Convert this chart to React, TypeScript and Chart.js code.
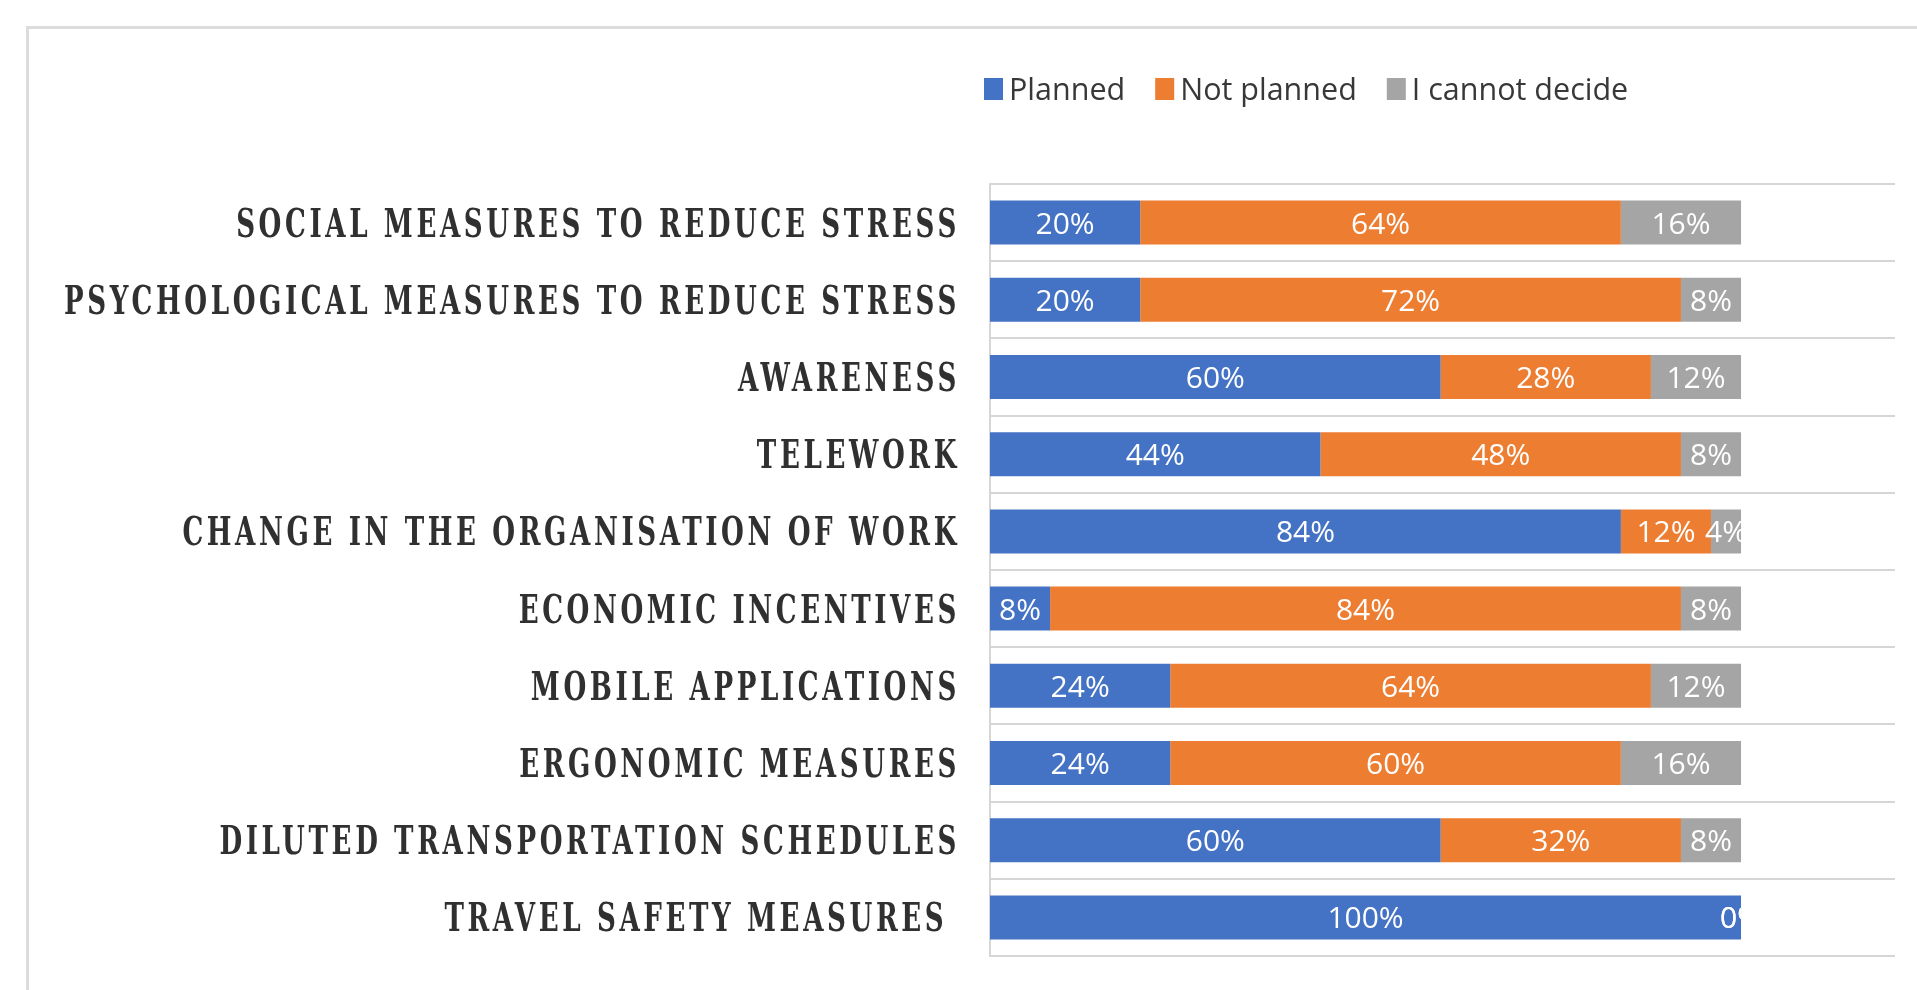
import React, { useEffect, useRef } from "react";
import { Chart, registerables } from "chart.js";

Chart.register(...registerables);

const categories = [
  "SOCIAL MEASURES TO REDUCE STRESS",
  "PSYCHOLOGICAL MEASURES TO REDUCE STRESS",
  "AWARENESS",
  "TELEWORK",
  "CHANGE IN THE ORGANISATION OF WORK",
  "ECONOMIC INCENTIVES",
  "MOBILE APPLICATIONS",
  "ERGONOMIC MEASURES",
  "DILUTED TRANSPORTATION SCHEDULES",
  "TRAVEL SAFETY MEASURES ",
];

const planned = [20, 20, 60, 44, 84, 8, 24, 24, 60, 100];
const notPlanned = [64, 72, 28, 48, 12, 84, 64, 60, 32, 0];
const cannotDecide = [16, 8, 12, 8, 4, 8, 12, 16, 8, 0];

const seriesNames = ["Planned", "Not planned", "I cannot decide"];
const seriesColors = ["#4472C4", "#ED7D31", "#A5A5A5"];

const dataLabelsPlugin = {
  id: "segmentLabels",
  afterDatasetsDraw(chart: any) {
    const ctx = chart.ctx;
    const xs = chart.scales.x;
    const area = chart.chartArea;
    const clipRight = xs.getPixelForValue(100);
    ctx.save();
    ctx.beginPath();
    ctx.rect(area.left, area.top, clipRight - area.left, area.bottom - area.top);
    ctx.clip();
    ctx.font = "500 30px 'Open Sans'";
    ctx.fillStyle = "#ffffff";
    ctx.textAlign = "center";
    ctx.textBaseline = "alphabetic";
    chart.data.datasets.forEach((ds: any, di: number) => {
      const meta = chart.getDatasetMeta(di);
      meta.data.forEach((bar: any, i: number) => {
        const v = ds.data[i];
        const p = bar.getProps(["x", "y", "base"], true);
        const cx = (p.x + p.base) / 2;
        ctx.fillText(v + "%", cx, p.y + 11);
      });
    });
    ctx.restore();
  },
};

const categoryLabelsPlugin = {
  id: "categoryLabels",
  afterDraw(chart: any) {
    const ctx = chart.ctx;
    const ys = chart.scales.y;
    ctx.save();
    ctx.font = "bold 24px 'DejaVu Serif'";
    ctx.fillStyle = "#303030";
    ctx.textAlign = "right";
    ctx.textBaseline = "alphabetic";
    (ctx as any).letterSpacing = "3.3px";
    const labels: string[] = chart.data.labels;
    labels.forEach((lab, i) => {
      const y = ys.getPixelForValue(i);
      ctx.save();
      ctx.translate(ys.right - 30, y);
      ctx.scale(1.09, 1.6);
      ctx.fillText(lab, 0, 8.7);
      ctx.restore();
    });
    ctx.restore();
  },
};

const legendPlugin = {
  id: "topLegend",
  afterDraw(chart: any) {
    const ctx = chart.ctx;
    ctx.save();
    ctx.font = "500 30.5px 'Open Sans'";
    ctx.textBaseline = "alphabetic";
    ctx.textAlign = "left";
    let x = chart.chartArea.left - 6;
    const cy = 89;
    chart.data.datasets.forEach((ds: any) => {
      ctx.fillStyle = ds.backgroundColor;
      ctx.fillRect(x, cy - 11, 19, 22);
      x += 25;
      ctx.fillStyle = "#383838";
      ctx.fillText(ds.label, x, cy + 11);
      x += ctx.measureText(ds.label).width + 30;
    });
    ctx.restore();
  },
};

export default function App() {
  const canvasRef = useRef<HTMLCanvasElement | null>(null);

  useEffect(() => {
    if (!canvasRef.current) return;
    const seriesValues = [planned, notPlanned, cannotDecide];
    const chart = new Chart(canvasRef.current, {
      type: "bar",
      data: {
        labels: categories,
        datasets: seriesNames.map((name, i) => ({
          label: name,
          data: seriesValues[i],
          backgroundColor: seriesColors[i],
          borderWidth: 0,
          categoryPercentage: 0.57,
          barPercentage: 1,
        })),
      },
      options: {
        indexAxis: "y",
        responsive: false,
        animation: false,
        layout: { padding: { left: 0, top: 184, right: 22, bottom: 34 } },
        plugins: {
          legend: { display: false },
          tooltip: { enabled: false },
          title: { display: false },
        },
        scales: {
          x: { stacked: true, min: 0, max: 120.5, display: false },
          y: {
            stacked: true,
            display: true,
            ticks: { display: false },
            grid: { color: "#d6d6d6", lineWidth: 2, drawTicks: false, offset: true },
            border: { display: true, color: "#d6d6d6", width: 2 },
            afterFit(s: any) {
              s.width = 990;
            },
          },
        },
      } as any,
      plugins: [dataLabelsPlugin, categoryLabelsPlugin, legendPlugin],
    });
    return () => chart.destroy();
  }, []);

  return (
    <div
      style={{
        position: "fixed",
        left: 0,
        top: 0,
        width: 1917,
        height: 990,
        overflow: "hidden",
        background: "#ffffff",
      }}
    >
      <div
        style={{
          position: "absolute",
          left: 26,
          top: 26,
          width: 2200,
          height: 1200,
          border: "3px solid #dcdcdc",
          boxSizing: "border-box",
        }}
      />
      <canvas
        ref={canvasRef}
        width={1917}
        height={990}
        style={{ position: "absolute", left: 0, top: 0, width: 1917, height: 990 }}
      />
    </div>
  );
}
